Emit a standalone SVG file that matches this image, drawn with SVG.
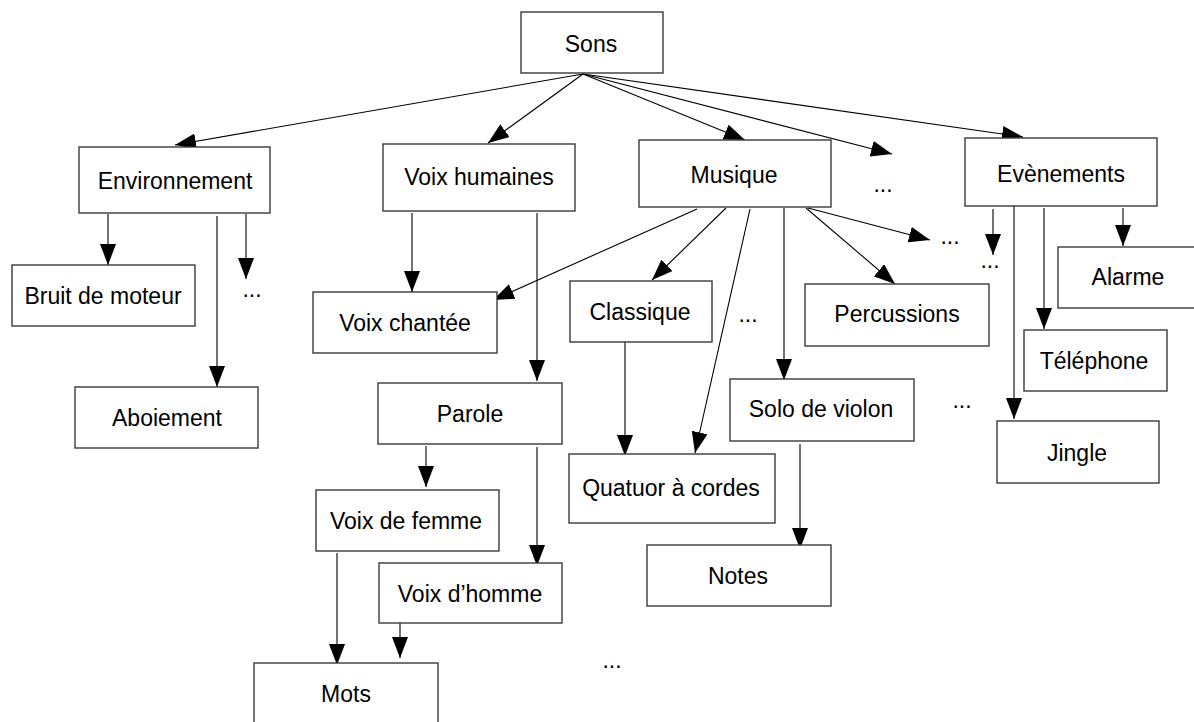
<svg xmlns="http://www.w3.org/2000/svg" width="1194" height="722" viewBox="0 0 1194 722">
<defs>
<style>
.box{fill:#fff;stroke:#3a3a3a;stroke-width:1.4}
.lbl{font-family:"Liberation Sans",Arial,sans-serif;font-size:23px;fill:#000;text-anchor:middle}
.c{stroke:#000;stroke-width:1.1;fill:none;marker-end:url(#ah)}
</style>
<marker id="ah" markerUnits="userSpaceOnUse" markerWidth="22" markerHeight="16" refX="21" refY="8" orient="auto" viewBox="0 0 22 16">
<path d="M0,0 L21,8 L0,16 z" fill="#000"/>
</marker>
</defs>
<rect width="1194" height="722" fill="#fff"/>
<g id="connectors">
<line class="c" x1="583" y1="74" x2="175" y2="145"/>
<line class="c" x1="583" y1="74" x2="488" y2="143"/>
<line class="c" x1="583" y1="74" x2="745" y2="140"/>
<line class="c" x1="583" y1="74" x2="892" y2="154"/>
<line class="c" x1="583" y1="74" x2="1023" y2="137"/>
<line class="c" x1="108" y1="214" x2="108" y2="265"/>
<line class="c" x1="217" y1="216" x2="217" y2="387"/>
<line class="c" x1="246" y1="214" x2="246" y2="279"/>
<line class="c" x1="412" y1="213" x2="412" y2="292"/>
<line class="c" x1="537" y1="213" x2="537" y2="381"/>
<line class="c" x1="697" y1="209" x2="493" y2="300"/>
<line class="c" x1="726" y1="208" x2="652" y2="280"/>
<line class="c" x1="750" y1="209" x2="695" y2="453"/>
<line class="c" x1="784" y1="208" x2="784" y2="380"/>
<line class="c" x1="806" y1="208" x2="895" y2="284"/>
<line class="c" x1="808" y1="208" x2="930" y2="240"/>
<line class="c" x1="993" y1="209" x2="993" y2="255"/>
<line class="c" x1="1014" y1="206" x2="1014" y2="419"/>
<line class="c" x1="1044" y1="208" x2="1044" y2="329"/>
<line class="c" x1="1123" y1="208" x2="1123" y2="246"/>
<line class="c" x1="426" y1="446" x2="426" y2="487"/>
<line class="c" x1="537" y1="447" x2="537" y2="566"/>
<line class="c" x1="625" y1="342" x2="625" y2="456"/>
<line class="c" x1="800" y1="444" x2="800" y2="549"/>
<line class="c" x1="337" y1="553" x2="337" y2="665"/>
<line class="c" x1="400" y1="623" x2="400" y2="658"/>
</g>
<g id="n-sons"><rect class="box" x="521" y="12" width="142" height="61"/><text class="lbl" x="591" y="52">Sons</text></g>
<g id="n-env"><rect class="box" x="79" y="147" width="191" height="66"/><text class="lbl" x="175" y="189">Environnement</text></g>
<g id="n-voixhum"><rect class="box" x="383" y="144" width="192" height="67"/><text class="lbl" x="479" y="185">Voix humaines</text></g>
<g id="n-musique"><rect class="box" x="639" y="140" width="192" height="67"/><text class="lbl" x="734" y="183">Musique</text></g>
<g id="n-evt"><rect class="box" x="965" y="138" width="192" height="68"/><text class="lbl" x="1061" y="182">Evènements</text></g>
<g id="n-bruit"><rect class="box" x="12" y="265" width="183" height="61"/><text class="lbl" x="103" y="304">Bruit de moteur</text></g>
<g id="n-aboi"><rect class="box" x="75" y="387" width="183" height="61"/><text class="lbl" x="167" y="426">Aboiement</text></g>
<g id="n-chant"><rect class="box" x="313" y="292" width="184" height="61"/><text class="lbl" x="405" y="331">Voix chantée</text></g>
<g id="n-parole"><rect class="box" x="378" y="383" width="184" height="61"/><text class="lbl" x="470" y="422">Parole</text></g>
<g id="n-classique"><rect class="box" x="570" y="281" width="142" height="61"/><text class="lbl" x="640" y="320">Classique</text></g>
<g id="n-perc"><rect class="box" x="805" y="284" width="184" height="62"/><text class="lbl" x="897" y="322">Percussions</text></g>
<g id="n-alarme"><rect class="box" x="1058" y="247" width="140" height="61"/><text class="lbl" x="1128" y="285">Alarme</text></g>
<g id="n-tel"><rect class="box" x="1024" y="330" width="143" height="61"/><text class="lbl" x="1094" y="369">Téléphone</text></g>
<g id="n-jingle"><rect class="box" x="997" y="421" width="162" height="62"/><text class="lbl" x="1077" y="461">Jingle</text></g>
<g id="n-solo"><rect class="box" x="730" y="379" width="184" height="62"/><text class="lbl" x="821" y="417">Solo de violon</text></g>
<g id="n-quatuor"><rect class="box" x="569" y="454" width="206" height="69"/><text class="lbl" x="671" y="496">Quatuor à cordes</text></g>
<g id="n-notes"><rect class="box" x="647" y="545" width="184" height="61"/><text class="lbl" x="738" y="584">Notes</text></g>
<g id="n-femme"><rect class="box" x="316" y="490" width="183" height="61"/><text class="lbl" x="406" y="529">Voix de femme</text></g>
<g id="n-homme"><rect class="box" x="379" y="563" width="183" height="60"/><text class="lbl" x="470" y="602">Voix d’homme</text></g>
<g id="n-mots"><rect class="box" x="254" y="663" width="184" height="70"/><text class="lbl" x="346" y="702">Mots</text></g>
<g id="ellipses">
<text class="lbl" x="883" y="192">...</text>
<text class="lbl" x="252" y="297">...</text>
<text class="lbl" x="748" y="322">...</text>
<text class="lbl" x="950" y="244">...</text>
<text class="lbl" x="990" y="268">...</text>
<text class="lbl" x="962" y="408">...</text>
<text class="lbl" x="612" y="668">...</text>
</g>
</svg>
